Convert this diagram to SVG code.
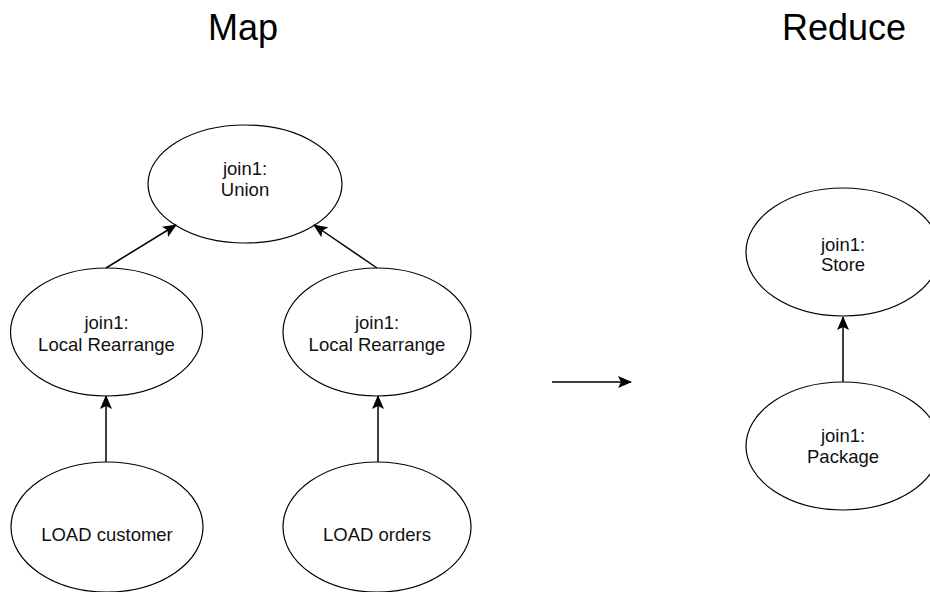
<svg xmlns="http://www.w3.org/2000/svg" width="930" height="592" viewBox="0 0 930 592">
  <style>
    .node ellipse { fill: #ffffff; stroke: #000000; stroke-width: 1.2; }
    .label { font-family: "Liberation Sans", Arial, Helvetica, sans-serif; font-size: 18.5px; fill: #111111; text-anchor: middle; }
    .title { font-family: "Liberation Sans", Arial, Helvetica, sans-serif; font-size: 36px; fill: #000000; text-anchor: middle; }
    .edge { stroke: #000000; stroke-width: 1.5; fill: none; marker-end: url(#arrow); }
  </style>
  <defs>
    <marker id="arrow" markerUnits="userSpaceOnUse" markerWidth="14" markerHeight="12" viewBox="0 0 14 12" refX="13" refY="6" orient="auto">
      <path d="M0,0 L14,6 L0,12 L3,6 Z" fill="#000000"/>
    </marker>
  </defs>
  <rect width="930" height="592" fill="#ffffff"/>

  <!-- section headings -->
  <text class="title" x="243" y="40">Map</text>
  <text class="title" x="844" y="40">Reduce</text>

  <!-- map side -->
  <g id="union" class="node">
    <ellipse cx="245" cy="184" rx="97" ry="59"/>
    <text class="label" x="245" y="175">join1:</text>
    <text class="label" x="245" y="196">Union</text>
  </g>
  <g id="rearrange-left" class="node">
    <ellipse cx="106.5" cy="332" rx="96" ry="64"/>
    <text class="label" x="106.5" y="329">join1:</text>
    <text class="label" x="106.5" y="351">Local Rearrange</text>
  </g>
  <g id="rearrange-right" class="node">
    <ellipse cx="377" cy="332" rx="94" ry="64"/>
    <text class="label" x="377" y="329">join1:</text>
    <text class="label" x="377" y="351">Local Rearrange</text>
  </g>
  <g id="load-customer" class="node">
    <ellipse cx="107" cy="527" rx="96" ry="65"/>
    <text class="label" x="107" y="541">LOAD customer</text>
  </g>
  <g id="load-orders" class="node">
    <ellipse cx="377" cy="527" rx="94" ry="65"/>
    <text class="label" x="377" y="541">LOAD orders</text>
  </g>

  <!-- reduce side -->
  <g id="store" class="node">
    <ellipse cx="843" cy="252" rx="97" ry="64"/>
    <text class="label" x="843" y="251">join1:</text>
    <text class="label" x="843" y="271">Store</text>
  </g>
  <g id="package" class="node">
    <ellipse cx="843" cy="446" rx="97" ry="64"/>
    <text class="label" x="843" y="442">join1:</text>
    <text class="label" x="843" y="463">Package</text>
  </g>

  <!-- connectors -->
  <g id="edges">
    <line class="edge" x1="106" y1="268" x2="176" y2="225"/>
    <line class="edge" x1="377" y1="268" x2="314" y2="225"/>
    <line class="edge" x1="106" y1="462" x2="106" y2="396"/>
    <line class="edge" x1="378" y1="462" x2="378" y2="396"/>
    <line class="edge" x1="552" y1="382" x2="631" y2="382"/>
    <line class="edge" x1="843" y1="382" x2="843" y2="317"/>
  </g>
</svg>
